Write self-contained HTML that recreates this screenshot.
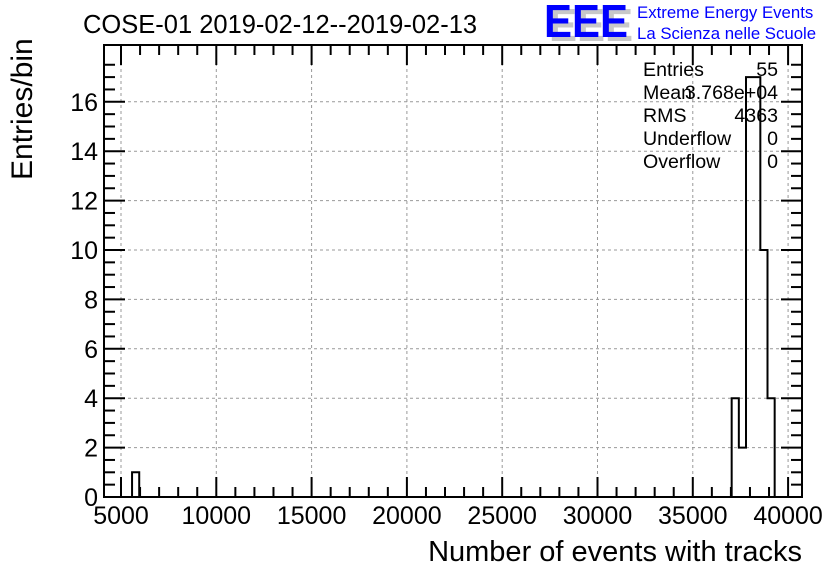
<!DOCTYPE html>
<html><head><meta charset="utf-8"><style>
body{margin:0;background:#fff}
svg{display:block;font-family:"Liberation Sans",sans-serif}
</style></head><body>
<svg id="c" width="836" height="572" viewBox="0 0 836 572">
<rect width="836" height="572" fill="#fff"/>
<text x="83" y="33" font-size="25.5">COSE-01 2019-02-12--2019-02-13</text>
<g>
<text x="549" y="41" font-size="46" font-weight="bold" fill="#c8c8c8" textLength="84" lengthAdjust="spacingAndGlyphs">EEE</text>
<text x="544" y="37" font-size="46" font-weight="bold" fill="#0000ff" textLength="84" lengthAdjust="spacingAndGlyphs">EEE</text>
<text x="637" y="18" font-size="16.8" fill="#0000ff">Extreme Energy Events</text>
<text x="637" y="39" font-size="16.8" fill="#0000ff">La Scienza nelle Scuole</text>
</g>
<g id="grid"></g>
<g id="hist"></g>
<rect x="104" y="45" width="698" height="452" fill="none" stroke="#000" stroke-width="2"/>
<g id="axes"></g>
<g font-size="19.6">
<text x="643" y="76">Entries</text><text x="778" y="76" text-anchor="end">55</text>
<text x="643" y="99">Mean</text><text x="778" y="99" text-anchor="end">3.768e+04</text>
<text x="643" y="122">RMS</text><text x="778" y="122" text-anchor="end">4363</text>
<text x="643" y="145">Underflow</text><text x="778" y="145" text-anchor="end">0</text>
<text x="643" y="168">Overflow</text><text x="778" y="168" text-anchor="end">0</text>
</g>
<text x="802" y="561" font-size="29" text-anchor="end">Number of events with tracks</text>
<text transform="translate(32,180) rotate(-90)" font-size="30">Entries/bin</text>
</svg>
<script>
const binStarts=[5580,37040,37416,37792,38168,38544,38920];
const binCounts=[1,4,2,17,17,10,4];
const binWidth=376;
const xTicks=[5000,10000,15000,20000,25000,30000,35000,40000];
const yTicks=[0,2,4,6,8,10,12,14,16];
const NS="http://www.w3.org/2000/svg";
const X0=104,X1=802,Y0=497,Y1=45,xmin=4108,xmax=40730,ymax=18.3;
const sx=v=>X0+(v-xmin)/(xmax-xmin)*(X1-X0);
const sy=v=>Y0-v/ymax*(Y0-Y1);
function mk(t,a,p){const e=document.createElementNS(NS,t);for(const k in a)e.setAttribute(k,a[k]);p.appendChild(e);return e;}
const grid=document.getElementById('grid'),axes=document.getElementById('axes'),hist=document.getElementById('hist');
xTicks.forEach(v=>{const l=mk('line',{x1:sx(v),x2:sx(v),y1:Y1,y2:Y0,stroke:'#999','stroke-dasharray':'3,3'},grid);


const t=mk('line',{x1:sx(v),x2:sx(v),y1:Y0,y2:Y0-20,stroke:'#000','stroke-width':2},axes);


const t2=mk('line',{x1:sx(v),x2:sx(v),y1:Y1,y2:Y1+20,stroke:'#000','stroke-width':2},axes);


const tx=mk('text',{x:sx(v),y:524,'font-size':25,'text-anchor':'middle'},axes);tx.textContent=v;

});
for(let v=5000;v<=40000;v+=1000){if(v%5000===0)continue;
const t=mk('line',{x1:sx(v),x2:sx(v),y1:Y0,y2:Y0-10,stroke:'#000','stroke-width':2},axes);


const t2=mk('line',{x1:sx(v),x2:sx(v),y1:Y1,y2:Y1+10,stroke:'#000','stroke-width':2},axes);

}
yTicks.forEach(v=>{const l=mk('line',{x1:X0,x2:X1,y1:sy(v),y2:sy(v),stroke:'#999','stroke-dasharray':'3,3'},grid);


const t=mk('line',{x1:X0,x2:X0+21,y1:sy(v),y2:sy(v),stroke:'#000','stroke-width':2},axes);


const t2=mk('line',{x1:X1,x2:X1-21,y1:sy(v),y2:sy(v),stroke:'#000','stroke-width':2},axes);


const tx=mk('text',{x:98,y:sy(v)+9,'font-size':25,'text-anchor':'end'},axes);tx.textContent=v;

});
for(let v=0.5;v<ymax;v+=0.5){if(v%2===0)continue;
const t=mk('line',{x1:X0,x2:X0+11,y1:sy(v),y2:sy(v),stroke:'#000','stroke-width':2},axes);


const t2=mk('line',{x1:X1,x2:X1-11,y1:sy(v),y2:sy(v),stroke:'#000','stroke-width':2},axes);

}
let d='';let prevEnd=null;
binStarts.forEach((s,i)=>{const h=binCounts[i],e=s+binWidth;
if(prevEnd===null||Math.abs(s-prevEnd)>1){if(prevEnd!==null)d+=`L${sx(prevEnd)},${sy(0)} `;d+=`M${sx(s)},${sy(0)} `;}
d+=`L${sx(s)},${sy(h)} L${sx(e)},${sy(h)} `;prevEnd=e;});
d+=`L${sx(prevEnd)},${sy(0)}`;
const p=mk('path',{d:d,fill:'none',stroke:'#000','stroke-width':2},hist);


</script>
</body></html>
